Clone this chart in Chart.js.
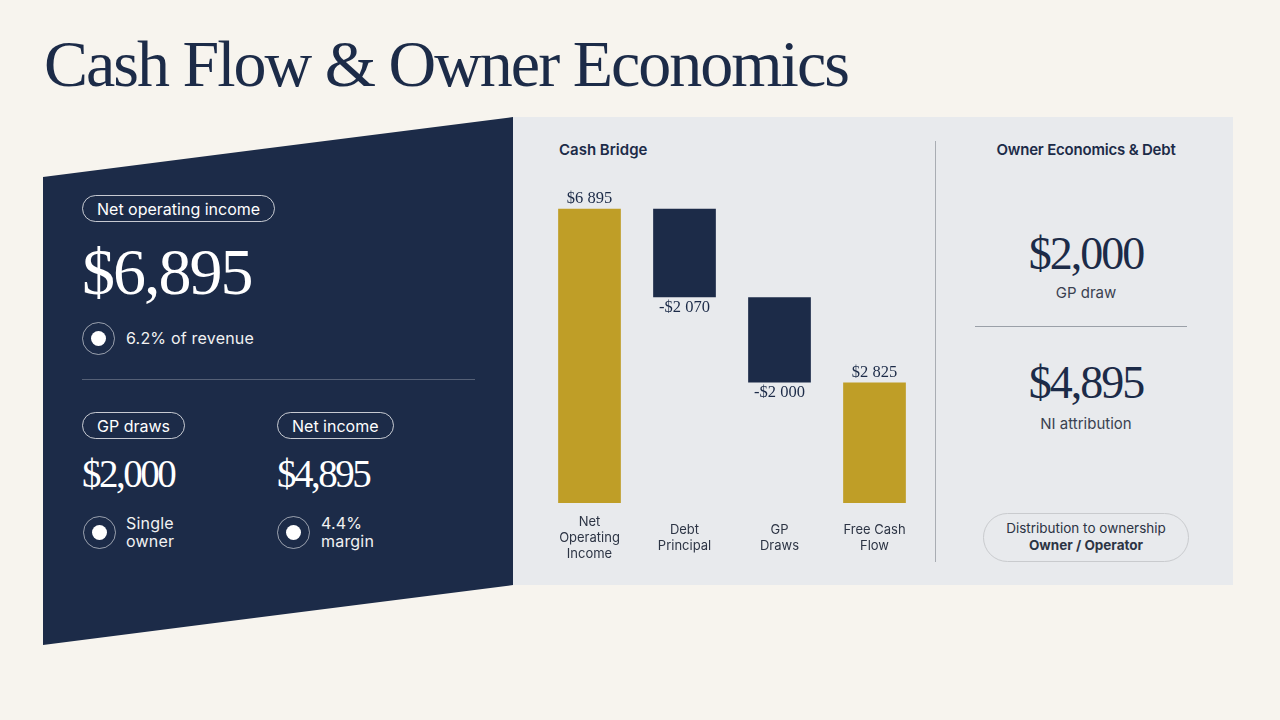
<!DOCTYPE html>
<html>
<head>
<meta charset="utf-8">
<script src="https://cdn.jsdelivr.net/npm/chart.js@4.4.1/dist/chart.umd.min.js"></script>
<style>
  html, body { margin: 0; padding: 0; }
  body { width: 1280px; height: 720px; background: #f7f4ee; position: relative; overflow: hidden; font-family: Inter, "Noto Sans", sans-serif; }
  .serif { font-family: "Liberation Serif", "DejaVu Serif", serif; }
  #title { position: absolute; left: 44px; top: 26px; font-size: 66px; color: #1c2b48; letter-spacing: -2px; white-space: nowrap; }
  #navy { position: absolute; left: 0; top: 0; }
  #grey { position: absolute; left: 513px; top: 117px; width: 720px; height: 468px; background: #e8eaed; }
  .abs { position: absolute; white-space: nowrap; }
  .pill { position: absolute; border: 1px solid rgba(255,255,255,0.75); border-radius: 15px; color: #fff; font-size: 16px; height: 27px; line-height: 27px; padding: 0 14px; box-sizing: border-box; }
  .dot { position: absolute; width: 33px; height: 33px; border-radius: 50%; border: 1px solid rgba(255,255,255,0.55); box-sizing: border-box; }
  .dot::after { content: ""; position: absolute; left: 8px; top: 8px; width: 15px; height: 15px; border-radius: 50%; background: #fff; }
  .white { color: #fff; }
  .note { color: #f2f2f2; font-size: 16px; line-height: 18px; letter-spacing: 0.2px; }
  #chartBox { position: absolute; left: 542px; top: 183px; width: 380px; height: 400px; }
</style>
</head>
<body>
<div id="title" class="serif">Cash Flow &amp; Owner Economics</div>

<svg id="navy" width="1280" height="720"><polygon points="43,177 513,117 513,585 43,645" fill="#1c2b48"/></svg>
<div id="grey"></div>

<!-- left panel -->
<div class="pill" style="left:82px; top:195px;">Net operating income</div>
<div class="abs serif white" style="left:82px; top:232px; font-size:66px; letter-spacing:-2px; line-height:80px;">$6,895</div>
<div class="dot" style="left:82px; top:322px;"></div>
<div class="abs note" style="left:126px; top:329px;">6.2% of revenue</div>
<div class="abs" style="left:82px; top:379px; width:393px; height:1px; background:rgba(255,255,255,0.25);"></div>

<div class="pill" style="left:82px; top:412px;">GP draws</div>
<div class="abs serif white" style="left:82px; top:452px; font-size:39px; letter-spacing:-2.5px; line-height:44px;">$2,000</div>
<div class="dot" style="left:83px; top:516px;"></div>
<div class="abs note" style="left:126px; top:514px;">Single<br>owner</div>

<div class="pill" style="left:277px; top:412px;">Net income</div>
<div class="abs serif white" style="left:277px; top:452px; font-size:39px; letter-spacing:-2.5px; line-height:44px;">$4,895</div>
<div class="dot" style="left:277px; top:516px;"></div>
<div class="abs note" style="left:321px; top:514px;">4.4%<br>margin</div>

<!-- chart column -->
<div class="abs" style="left:559px; top:140px; font-size:15px; font-weight:600; color:#1c2b48;">Cash Bridge</div>
<div id="chartBox"><canvas id="bridgeChart"></canvas></div>
<div class="abs" style="left:935px; top:141px; width:1px; height:421px; background:#a9adb3;"></div>

<!-- right column -->
<div class="abs" style="left:940px; width:292px; text-align:center; top:140px; font-size:15px; font-weight:600; color:#1c2b48; letter-spacing:-0.2px;">Owner Economics &amp; Debt</div>
<div class="abs serif" style="left:940px; width:292px; text-align:center; top:228px; font-size:46px; letter-spacing:-2px; color:#1c2b48; line-height:52px;">$2,000</div>
<div class="abs" style="left:940px; width:292px; text-align:center; top:283px; font-size:15px; color:#3a4150;">GP draw</div>
<div class="abs" style="left:975px; top:326px; width:212px; height:1px; background:#9aa0a8;"></div>
<div class="abs serif" style="left:940px; width:292px; text-align:center; top:357px; font-size:46px; letter-spacing:-2px; color:#1c2b48; line-height:52px;">$4,895</div>
<div class="abs" style="left:940px; width:292px; text-align:center; top:414px; font-size:15px; color:#3a4150;">NI attribution</div>
<div class="abs" style="left:983px; top:513px; width:206px; height:49px; box-sizing:border-box; border:1px solid #c9cbce; border-radius:25px; text-align:center; font-size:13.5px; color:#2c3444; padding-top:6px; line-height:17px;">Distribution to ownership<br><b>Owner / Operator</b></div>

<script>
// Cash bridge data
const categories = [['Net', 'Operating', 'Income'], ['Debt', 'Principal'], ['GP', 'Draws'], ['Free Cash', 'Flow']];
const steps = [6895, -2070, -2000, 2825];
const stepKinds = ['total', 'change', 'change', 'total'];
const valueLabels = ['$6 895', '-$2 070', '-$2 000', '$2 825'];

const gold = '#bf9e27';
const navy = '#1c2b48';

// floating bar ranges from the running total
const ranges = [];
let running = 0;
steps.forEach(function(v, i) {
    if (stepKinds[i] === 'total') {
        ranges.push([0, v]);
        running = v;
    } else {
        ranges.push([running + v, running]);
        running = running + v;
    }
});

const barLabelPlugin = {
    id: 'barLabels',
    afterDatasetsDraw: function(chart) {
        const ctx = chart.ctx;
        const meta = chart.getDatasetMeta(0);
        ctx.save();
        ctx.font = '16.5px "Liberation Serif", serif';
        ctx.fillStyle = '#1c2b48';
        ctx.textAlign = 'center';
        meta.data.forEach(function(bar, i) {
            const props = bar.getProps(['x', 'y', 'base'], true);
            const top = Math.min(props.y, props.base);
            const bottom = Math.max(props.y, props.base);
            if (steps[i] >= 0) {
                ctx.textBaseline = 'bottom';
                ctx.fillText(valueLabels[i], props.x, top - 2);
            } else {
                ctx.textBaseline = 'top';
                ctx.fillText(valueLabels[i], props.x, bottom + 2);
            }
        });
        ctx.restore();
    }
};

new Chart(document.getElementById('bridgeChart').getContext('2d'), {
    type: 'bar',
    data: {
        labels: categories,
        datasets: [{
            data: ranges,
            backgroundColor: stepKinds.map(function(k) { return k === 'total' ? gold : navy; }),
            borderWidth: 0,
            borderSkipped: false,
            categoryPercentage: 1,
            barPercentage: 0.66
        }]
    },
    options: {
        responsive: true,
        maintainAspectRatio: false,
        animation: false,
        layout: { padding: 0 },
        plugins: { legend: { display: false }, tooltip: { enabled: false } },
        scales: {
            x: {
                grid: { display: false, drawTicks: false },
                border: { display: false },
                ticks: {
                    padding: 19,
                    crossAlign: 'center',
                    color: '#2c3444',
                    font: { family: 'Inter', size: 13, lineHeight: 1.23 },
                    maxRotation: 0,
                    autoSkip: false
                },
                afterFit: function(scale) {
                    scale.height = 80;
                    scale.paddingLeft = 0;
                    scale.paddingRight = 0;
                }
            },
            y: {
                display: false,
                min: 0,
                max: 7500
            }
        }
    },
    plugins: [barLabelPlugin]
});
</script>
</body>
</html>
